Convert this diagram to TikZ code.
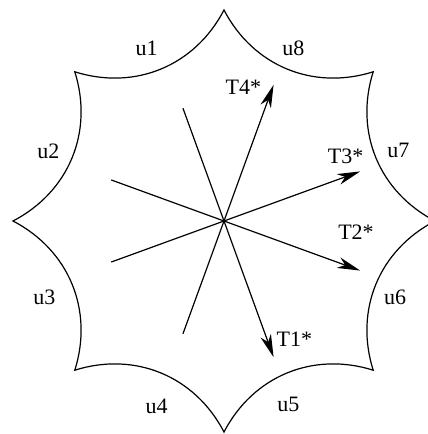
\documentclass[tikz,border=0pt]{standalone}
\usepackage{fontspec}
\setmainfont{Liberation Serif}
\usetikzlibrary{arrows.meta}
\begin{document}
\begin{tikzpicture}[x=1pt,y=1pt,
  edge/.style={line width=1.2pt},
  ray/.style={line width=1.2pt},
  arrowray/.style={line width=1.2pt,-{Stealth[length=23pt,width=11pt,inset=7pt]}},
  lbl/.style={inner sep=0pt,font=\fontsize{22}{26}\selectfont}]
\useasboundingbox (-224,-213) rectangle (204,221);
\clip (-224,-213) rectangle (204,221);
\fill[white] (-224,-213) rectangle (204,221);
\coordinate (c) at (0,0);
\foreach \i in {0,...,7} {\coordinate (p\i) at ({45*\i}:211);}
\draw[edge] (p0) to[bend left=40] (p1) to[bend left=40] (p2) to[bend left=40] (p3)
  to[bend left=40] (p4) to[bend left=40] (p5) to[bend left=40] (p6)
  to[bend left=40] (p7) to[bend left=40] (p0);
\coordinate (e1) at (-70:145);
\coordinate (e2) at (-20:145);
\coordinate (e3) at (20:145);
\coordinate (e4) at (70:145);
\coordinate (f1) at (110:120);
\coordinate (f2) at (160:120);
\coordinate (f3) at (200:120);
\coordinate (f4) at (250:120);
\draw[arrowray] (c) -- (e1);
\draw[arrowray] (c) -- (e2);
\draw[arrowray] (c) -- (e3);
\draw[arrowray] (c) -- (e4);
\draw[ray] (c) -- (f1);
\draw[ray] (c) -- (f2);
\draw[ray] (c) -- (f3);
\draw[ray] (c) -- (f4);
\node[lbl] (u1) at (-77.3,172.7) {u1};
\node[lbl] (u8) at (69.3,172.7) {u8};
\node[lbl] (u2) at (-175.7,69.3) {u2};
\node[lbl] (u7) at (174.3,71) {u7};
\node[lbl] (u3) at (-179.7,-76.7) {u3};
\node[lbl] (u6) at (171,-76.7) {u6};
\node[lbl] (u4) at (-67.3,-185) {u4};
\node[lbl] (u5) at (64.3,-183.3) {u5};
\node[lbl] (t4) at (19.3,133.7) {T4*};
\node[lbl] (t3) at (121.7,65) {T3*};
\node[lbl] (t2) at (132,-11.7) {T2*};
\node[lbl] (t1) at (70.3,-118.3) {T1*};
\end{tikzpicture}
\end{document}
